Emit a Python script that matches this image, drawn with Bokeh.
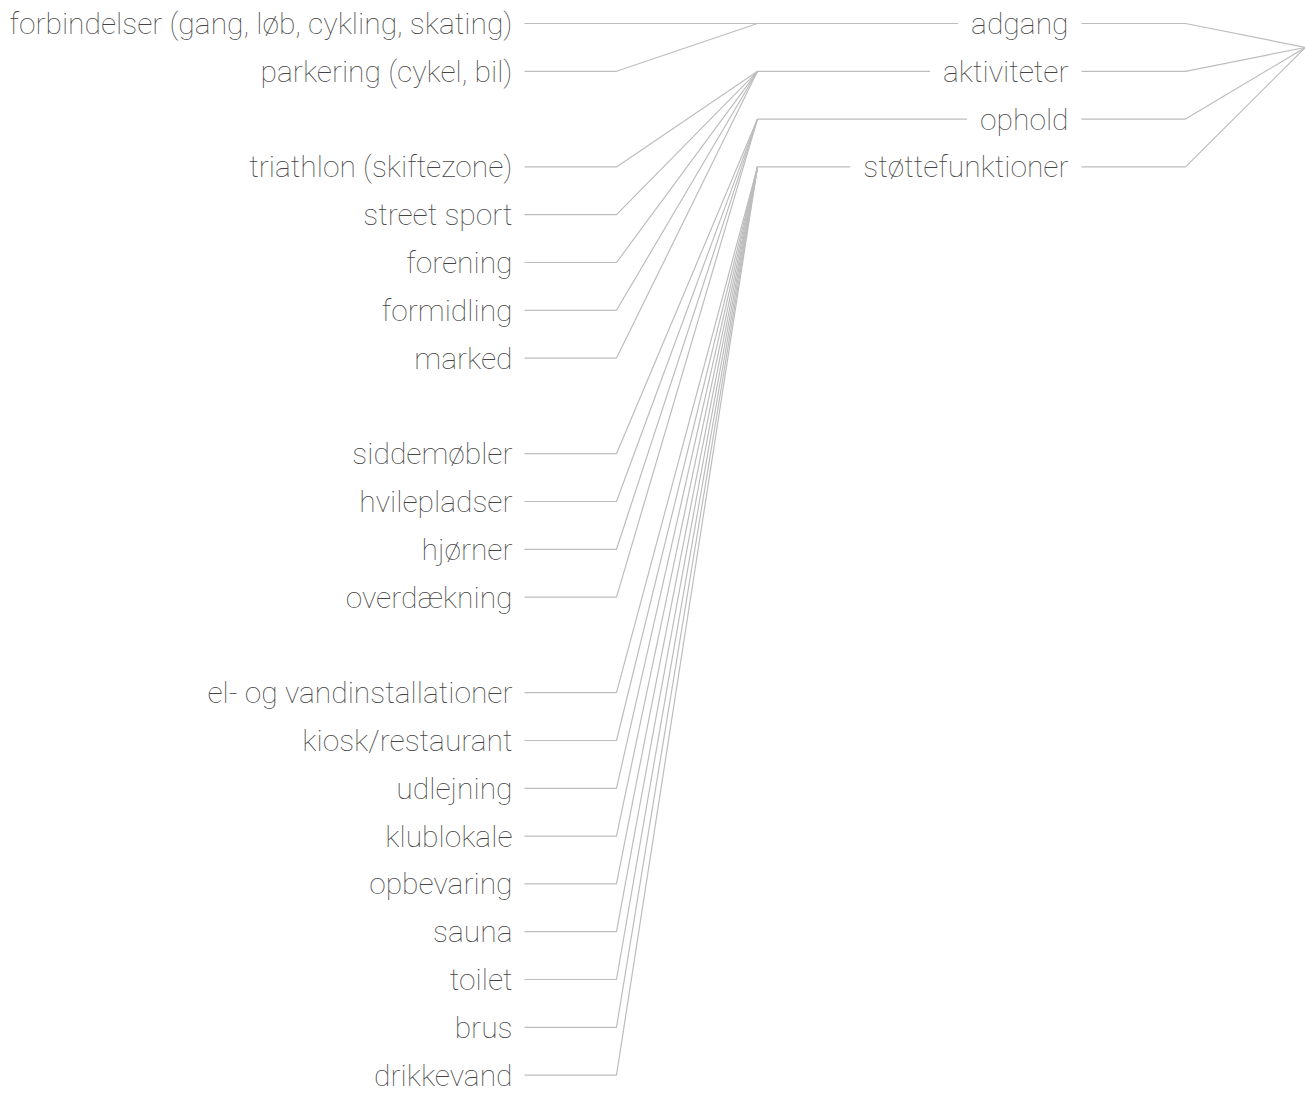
from bokeh.plotting import figure
from bokeh.models import Range1d
from bokeh.core.properties import value
from bokeh.embed import file_html
from bokeh.resources import INLINE

# ---- data (tree) ----
groups = ["adgang", "aktiviteter", "ophold", "støttefunktioner"]
adgang = ["forbindelser (gang, løb, cykling, skating)", "parkering (cykel, bil)"]
aktiviteter = ["triathlon (skiftezone)", "street sport", "forening", "formidling", "marked"]
ophold = ["siddemøbler", "hvilepladser", "hjørner", "overdækning"]
stottefunktioner = ["el- og vandinstallationer", "kiosk/restaurant", "udlejning", "klublokale",
                    "opbevaring", "sauna", "toilet", "brus", "drikkevand"]
children = [adgang, aktiviteter, ophold, stottefunktioner]

# ---- layout ----
FONT = "Roboto Thin"
FS = "30px"
LINE = "#bdbdbd"
TXT = "#444444"
ROW0, ROWH = 23, 47.8
PAD = 13
X_LEAF_TXT, X_LEAF_L0, X_LEAF_L1, X_GRP = 512, 524, 616, 757
X_GRP_TXT, X_GRP_L1, X_ROOT = 1068, 1185, 1305
W, H = 1305, 1094

def ry(r):
    return ROW0 + ROWH * r

leaf_names, leaf_y, leaf_py = [], [], []
row = 0
for gi, kids in enumerate(children):
    for k in kids:
        leaf_names.append(k)
        leaf_y.append(ry(row))
        leaf_py.append(ry(gi))
        row += 1
    row += 1

grp_y = [ry(i) for i in range(len(groups))]
root_y = ry(0.5)

p = figure(width=W, height=H, output_backend="svg", toolbar_location=None,
           x_range=Range1d(0, W), y_range=Range1d(H, 0), min_border=0)
p.axis.visible = False
p.grid.visible = False
p.outline_line_color = None

# leaf connectors
xs = [[X_LEAF_L0, X_LEAF_L1, X_GRP] for _ in leaf_names]
ys = [[y, y, py] for y, py in zip(leaf_y, leaf_py)]
p.multi_line(xs=xs, ys=ys, line_color=LINE, line_width=1.2)

# group connectors
gxs = [[X_GRP, X_GRP_L1, X_ROOT] for _ in groups]
gys = [[y, y, root_y] for y in grp_y]
p.multi_line(xs=gxs, ys=gys, line_color=LINE, line_width=1.2)

# leaf labels
p.text(x=[X_LEAF_TXT] * len(leaf_names), y=leaf_y, text=leaf_names,
       text_align="right", text_baseline="middle", text_font=value(FONT),
       text_font_size=FS, text_color=TXT)

# group labels with white background to break the line
p.text(x=[X_GRP_TXT + PAD] * len(groups), y=grp_y, text=groups,
       text_align="right", text_baseline="middle", text_font=value(FONT),
       text_font_size=FS, text_color=TXT, background_fill_color="white",
       padding=PAD)

open("out.html", "w").write(file_html(p, INLINE))
